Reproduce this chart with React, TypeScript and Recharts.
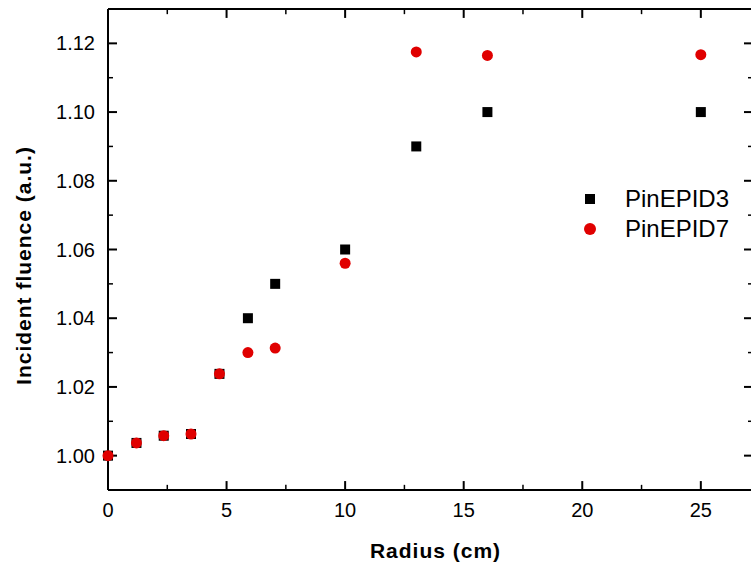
import React from "react";
import { ScatterChart, Scatter, XAxis, YAxis, Legend, ReferenceLine } from "recharts";

// radius (cm) of each measurement point
const radius = [0, 1.2, 2.35, 3.5, 4.7, 5.9, 7.05, 10, 13, 16, 25];
const pinEpid3 = [1.0, 1.0037, 1.0058, 1.0063, 1.0238, 1.04, 1.05, 1.06, 1.09, 1.1, 1.1];
const pinEpid7 = [1.0, 1.0037, 1.0058, 1.0063, 1.0238, 1.03, 1.0313, 1.056, 1.1175, 1.1165, 1.1167];

const xMajor = [0, 5, 10, 15, 20, 25];
const xMinor = [2.5, 7.5, 12.5, 17.5, 22.5];
const yMajor = [1.0, 1.02, 1.04, 1.06, 1.08, 1.1, 1.12];
const yMinor = [1.01, 1.03, 1.05, 1.07, 1.09, 1.11];

const xDomain: [number, number] = [0, 27.2];
const yDomain: [number, number] = [0.99, 1.13];

const FONT = "'Liberation Sans', Arial, Helvetica, sans-serif";
const RED = "#e00000";

const data3 = radius.map((x, i) => ({ x, y: pinEpid3[i] }));
const data7 = radius.map((x, i) => ({ x, y: pinEpid7[i] }));

const axisLine = { stroke: "#000", strokeWidth: 2 };
const tickText = { fill: "#000", fontSize: 20, fontFamily: FONT };

// inward tick length, in data units (about 9px major, 5px minor)
const X_MAJ = 0.38;
const X_MIN = 0.21;
const Y_MAJ = 0.0026;
const Y_MIN = 0.0015;

type Seg = { a: { x: number; y: number }; b: { x: number; y: number }; w: number };
const [x0, x1] = xDomain;
const [y0, y1] = yDomain;
const frameTicks: Seg[] = [
  ...xMajor.flatMap((x) => [
    { a: { x, y: y0 }, b: { x, y: y0 + Y_MAJ }, w: 2 },
    { a: { x, y: y1 }, b: { x, y: y1 - Y_MAJ }, w: 2 },
  ]),
  ...xMinor.flatMap((x) => [
    { a: { x, y: y0 }, b: { x, y: y0 + Y_MIN }, w: 1.5 },
    { a: { x, y: y1 }, b: { x, y: y1 - Y_MIN }, w: 1.5 },
  ]),
  ...yMajor.flatMap((y) => [
    { a: { x: x0, y }, b: { x: x0 + X_MAJ, y }, w: 2 },
    { a: { x: x1, y }, b: { x: x1 - X_MAJ, y }, w: 2 },
  ]),
  ...yMinor.flatMap((y) => [
    { a: { x: x0, y }, b: { x: x0 + X_MIN, y }, w: 1.5 },
    { a: { x: x1, y }, b: { x: x1 - X_MIN, y }, w: 1.5 },
  ]),
];

const squareShape = (p: any) => (
  <rect x={p.cx - 5} y={p.cy - 5} width={10} height={10} fill="#000" />
);
const circleShape = (p: any) => <circle cx={p.cx} cy={p.cy} r={5.5} fill={RED} />;

const renderLegend = (props: any) => {
  const { payload = [] } = props;
  return (
    <div>
      {payload.map((entry: any, i: number) => (
        <div key={i} style={{ display: "flex", alignItems: "center", height: 30 }}>
          <svg width={20} height={20} style={{ marginRight: 25 }}>
            {i === 0 ? (
              <rect x={5} y={5} width={10} height={10} fill="#000" />
            ) : (
              <circle cx={10} cy={10} r={6} fill={RED} />
            )}
          </svg>
          <span style={{ fontFamily: FONT, fontSize: 24, color: "#000" }}>{entry.value}</span>
        </div>
      ))}
    </div>
  );
};

const yTitle = (props: any) => {
  const vb = props.viewBox || {};
  const cx = 31;
  const cy = (vb.y ?? 9) + (vb.height ?? 481) / 2 + 16;
  return (
    <text
      x={cx}
      y={cy}
      transform={`rotate(-90, ${cx}, ${cy})`}
      textAnchor="middle"
      fontFamily={FONT}
      fontSize={21}
      fontWeight="bold"
      letterSpacing={1}
      fill="#000"
    >
      Incident fluence (a.u.)
    </text>
  );
};

export default function App() {
  return (
    <div
      style={{
        position: "absolute",
        left: 0,
        top: 0,
        width: 751,
        height: 568,
        overflow: "hidden",
        background: "#fff",
      }}
    >
      <ScatterChart width={760} height={568} margin={{ top: 9, right: 7, bottom: 0, left: 0 }}>
        <XAxis
          xAxisId={0}
          dataKey="x"
          type="number"
          domain={xDomain}
          ticks={xMajor}
          interval={0}
          height={78}
          tickSize={0}
          tickMargin={13}
          axisLine={axisLine}
          tickLine={false}
          tick={tickText}
          label={{
            value: "Radius (cm)",
            position: "insideBottom",
            offset: 10,
            dx: 5,
            fill: "#000",
            fontSize: 21,
            fontWeight: "bold",
            fontFamily: FONT,
            letterSpacing: 1,
          }}
        />
        <YAxis
          yAxisId={0}
          dataKey="y"
          type="number"
          domain={yDomain}
          ticks={yMajor}
          interval={0}
          width={108}
          tickSize={0}
          tickMargin={13}
          axisLine={axisLine}
          tickLine={false}
          tick={tickText}
          tickFormatter={(v: number) => v.toFixed(2)}
          label={{ content: yTitle }}
        />
        {/* top and right frame lines */}
        <XAxis
          xAxisId="top"
          orientation="top"
          mirror
          type="number"
          domain={xDomain}
          height={20}
          axisLine={axisLine}
          tickLine={false}
          tick={false}
        />
        <YAxis
          yAxisId="right"
          orientation="right"
          mirror
          type="number"
          domain={yDomain}
          width={20}
          axisLine={axisLine}
          tickLine={false}
          tick={false}
        />
        {frameTicks.map((s, i) => (
          <ReferenceLine
            key={`t${i}`}
            xAxisId={0}
            yAxisId={0}
            segment={[s.a, s.b]}
            stroke="#000"
            strokeWidth={s.w}
            ifOverflow="visible"
          />
        ))}
        <Legend
          layout="vertical"
          align="center"
          verticalAlign="middle"
          width={200}
          content={renderLegend}
          wrapperStyle={{ left: 580, top: 184 }}
        />
        <Scatter
          name="PinEPID3"
          data={data3}
          xAxisId={0}
          yAxisId={0}
          fill="#000"
          shape={squareShape}
          isAnimationActive={false}
        />
        <Scatter
          name="PinEPID7"
          data={data7}
          xAxisId={0}
          yAxisId={0}
          fill={RED}
          shape={circleShape}
          isAnimationActive={false}
        />
      </ScatterChart>
    </div>
  );
}
